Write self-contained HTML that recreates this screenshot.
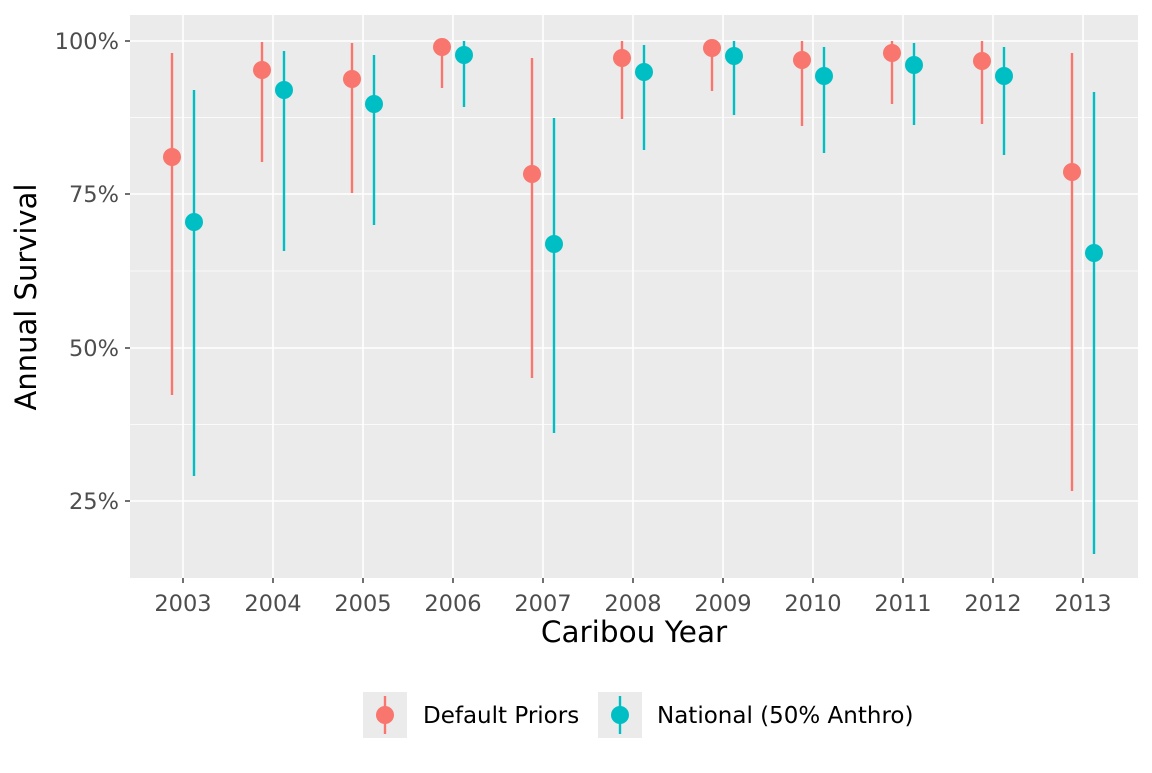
<!DOCTYPE html>
<html><head><meta charset="utf-8"><style>body{margin:0;background:#fff}</style></head>
<body>
<svg width="1152" height="768" xmlns="http://www.w3.org/2000/svg" font-family="'DejaVu Sans','Liberation Sans',sans-serif">
<rect width="1152" height="768" fill="#fff"/>
<rect x="130" y="15" width="1008" height="563" fill="#ebebeb"/>
<g stroke="#fff" stroke-width="0.8">
<line x1="130" x2="1138" y1="117.5" y2="117.5"/>
<line x1="130" x2="1138" y1="271" y2="271"/>
<line x1="130" x2="1138" y1="424.5" y2="424.5"/>
</g>
<g stroke="#fff" stroke-width="1.6">
<line x1="130" x2="1138" y1="41" y2="41"/>
<line x1="130" x2="1138" y1="194" y2="194"/>
<line x1="130" x2="1138" y1="348" y2="348"/>
<line x1="130" x2="1138" y1="501" y2="501"/>
<line x1="183" x2="183" y1="15" y2="578"/>
<line x1="273" x2="273" y1="15" y2="578"/>
<line x1="363" x2="363" y1="15" y2="578"/>
<line x1="453" x2="453" y1="15" y2="578"/>
<line x1="543" x2="543" y1="15" y2="578"/>
<line x1="633" x2="633" y1="15" y2="578"/>
<line x1="723" x2="723" y1="15" y2="578"/>
<line x1="813" x2="813" y1="15" y2="578"/>
<line x1="903" x2="903" y1="15" y2="578"/>
<line x1="993" x2="993" y1="15" y2="578"/>
<line x1="1083" x2="1083" y1="15" y2="578"/>
</g>
<g stroke="#333" stroke-width="1.4">
<line x1="125" x2="130" y1="41" y2="41"/><line x1="125" x2="130" y1="194" y2="194"/>
<line x1="125" x2="130" y1="348" y2="348"/><line x1="125" x2="130" y1="501" y2="501"/>
<line x1="183" x2="183" y1="578" y2="583"/><line x1="273" x2="273" y1="578" y2="583"/>
<line x1="363" x2="363" y1="578" y2="583"/><line x1="453" x2="453" y1="578" y2="583"/>
<line x1="543" x2="543" y1="578" y2="583"/><line x1="633" x2="633" y1="578" y2="583"/>
<line x1="723" x2="723" y1="578" y2="583"/><line x1="813" x2="813" y1="578" y2="583"/>
<line x1="903" x2="903" y1="578" y2="583"/><line x1="993" x2="993" y1="578" y2="583"/>
<line x1="1083" x2="1083" y1="578" y2="583"/>
</g>
<g fill="#4d4d4d" font-size="22.5" text-anchor="end">
<text x="119" y="49">100%</text><text x="119" y="202">75%</text>
<text x="119" y="356">50%</text><text x="119" y="509">25%</text>
</g>
<g fill="#4d4d4d" font-size="22.5" text-anchor="middle">
<text x="183" y="611">2003</text><text x="273" y="611">2004</text><text x="363" y="611">2005</text>
<text x="453" y="611">2006</text><text x="543" y="611">2007</text><text x="633" y="611">2008</text>
<text x="723" y="611">2009</text><text x="813" y="611">2010</text><text x="903" y="611">2011</text>
<text x="993" y="611">2012</text><text x="1083" y="611">2013</text>
</g>
<text x="634" y="642" font-size="29.5" text-anchor="middle" fill="#000">Caribou Year</text>
<text transform="translate(36,297) rotate(-90)" font-size="29" text-anchor="middle" fill="#000">Annual Survival</text>
<g stroke-width="2.4">
<line x1="172" x2="172" y1="53" y2="395" stroke="#f8766d"/><line x1="194" x2="194" y1="90" y2="476" stroke="#00bfc4"/>
<line x1="262" x2="262" y1="42" y2="162" stroke="#f8766d"/><line x1="284" x2="284" y1="51" y2="251" stroke="#00bfc4"/>
<line x1="352" x2="352" y1="43" y2="193" stroke="#f8766d"/><line x1="374" x2="374" y1="55" y2="225" stroke="#00bfc4"/>
<line x1="442" x2="442" y1="41" y2="88" stroke="#f8766d"/><line x1="464" x2="464" y1="41" y2="107" stroke="#00bfc4"/>
<line x1="532" x2="532" y1="58" y2="378" stroke="#f8766d"/><line x1="554" x2="554" y1="118" y2="433" stroke="#00bfc4"/>
<line x1="622" x2="622" y1="41" y2="119" stroke="#f8766d"/><line x1="644" x2="644" y1="45" y2="150" stroke="#00bfc4"/>
<line x1="712" x2="712" y1="41" y2="91" stroke="#f8766d"/><line x1="734" x2="734" y1="41" y2="115" stroke="#00bfc4"/>
<line x1="802" x2="802" y1="41" y2="126" stroke="#f8766d"/><line x1="824" x2="824" y1="47" y2="153" stroke="#00bfc4"/>
<line x1="892" x2="892" y1="41" y2="104" stroke="#f8766d"/><line x1="914" x2="914" y1="43" y2="125" stroke="#00bfc4"/>
<line x1="982" x2="982" y1="41" y2="124" stroke="#f8766d"/><line x1="1004" x2="1004" y1="47" y2="155" stroke="#00bfc4"/>
<line x1="1072" x2="1072" y1="53" y2="491" stroke="#f8766d"/><line x1="1094" x2="1094" y1="92" y2="554" stroke="#00bfc4"/>
</g>
<g fill="#f8766d">
<circle cx="172" cy="157" r="9"/><circle cx="262" cy="70" r="9"/><circle cx="352" cy="79" r="9"/>
<circle cx="442" cy="47" r="9"/><circle cx="532" cy="174" r="9"/><circle cx="622" cy="58" r="9"/>
<circle cx="712" cy="48" r="9"/><circle cx="802" cy="60" r="9"/><circle cx="892" cy="53" r="9"/>
<circle cx="982" cy="61" r="9"/><circle cx="1072" cy="172" r="9"/>
</g>
<g fill="#00bfc4">
<circle cx="194" cy="222" r="9"/><circle cx="284" cy="90" r="9"/><circle cx="374" cy="104" r="9"/>
<circle cx="464" cy="55" r="9"/><circle cx="554" cy="244" r="9"/><circle cx="644" cy="72" r="9"/>
<circle cx="734" cy="56" r="9"/><circle cx="824" cy="76" r="9"/><circle cx="914" cy="65" r="9"/>
<circle cx="1004" cy="76" r="9"/><circle cx="1094" cy="253" r="9"/>
</g>
<rect x="363" y="692" width="44" height="46" fill="#ebebeb"/>
<line x1="385" x2="385" y1="696" y2="734" stroke="#f8766d" stroke-width="2.4"/>
<circle cx="385" cy="715" r="9" fill="#f8766d"/>
<text x="423" y="723" font-size="23" fill="#000">Default Priors</text>
<rect x="598" y="692" width="44" height="46" fill="#ebebeb"/>
<line x1="620" x2="620" y1="696" y2="734" stroke="#00bfc4" stroke-width="2.4"/>
<circle cx="620" cy="715" r="9" fill="#00bfc4"/>
<text x="657" y="723" font-size="23" fill="#000">National (50% Anthro)</text>
</svg>
</body></html>
